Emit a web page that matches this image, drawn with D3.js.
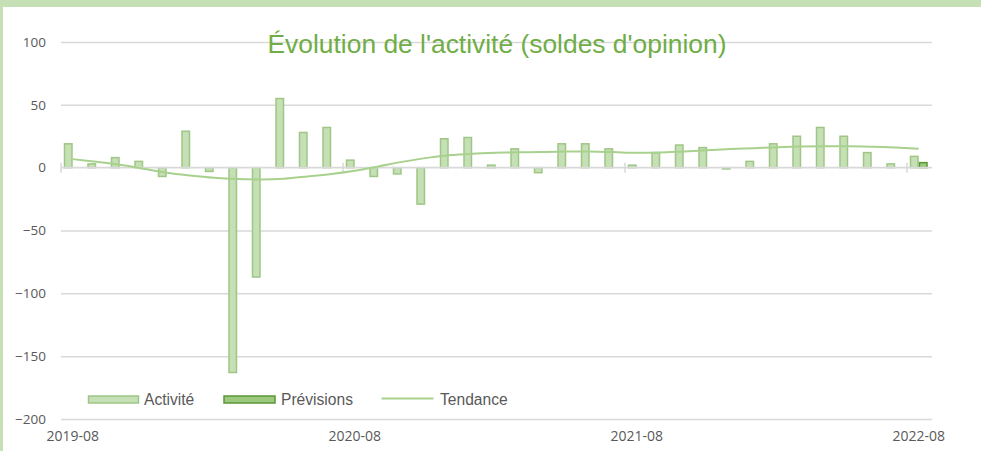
<!DOCTYPE html>
<html>
<head>
<meta charset="utf-8">
<script src="https://cdn.jsdelivr.net/npm/d3@7"></script>
<style>
  html, body { margin: 0; padding: 0; background: #fff; }
  svg { display: block; }
</style>
</head>
<body>
<svg id="chart" width="981" height="451"></svg>
<script>
const months = ['2019-08','2019-09','2019-10','2019-11','2019-12','2020-01','2020-02','2020-03','2020-04','2020-05','2020-06','2020-07',
  '2020-08','2020-09','2020-10','2020-11','2020-12','2021-01','2021-02','2021-03','2021-04','2021-05','2021-06','2021-07',
  '2021-08','2021-09','2021-10','2021-11','2021-12','2022-01','2022-02','2022-03','2022-04','2022-05','2022-06','2022-07','2022-08'];
const activite = [19,3,8,5,-7,29,-3,-163,-87,55,28,32,6,-7,-5,-29,23,24,2,15,-4,19,19,15,2,12,18,16,-1,5,19,25,32,25,12,3,9];
const previsions = [null,null,null,null,null,null,null,null,null,null,null,null,null,null,null,null,null,null,null,null,null,null,null,null,null,null,null,null,null,null,null,null,null,null,null,null,4];
const tendance = [6.8,4.7,2.3,-0.8,-4,-6.2,-8,-9.1,-9.5,-8.8,-7,-5,-2.4,1,4.6,7.6,9.8,11.1,11.8,12.2,12.5,12.8,12.9,12.4,11.8,12,12.9,13.8,14.8,15.5,16.3,16.9,17.1,17,16.7,16,15];
const yTicks = [-200,-150,-100,-50,0,50,100];
const xLabels = ['2019-08','2020-08','2021-08','2022-08'];
const seriesNames = ['Activité','Prévisions'];
const chartTitle = "Évolution de l'activité (soldes d'opinion)";

(function () {
const svg = d3.select('#chart');
const W = 981, H = 451;
const pLeft = 61, pRight = 930.5, pTop = 42, pBottom = 419;

// frame
svg.append('rect').attr('x',0).attr('y',0).attr('width',W).attr('height',H).attr('fill','#fff');
svg.append('rect').attr('x',0).attr('y',0).attr('width',W).attr('height',7).attr('fill','#c5e0b4');
svg.append('rect').attr('x',0).attr('y',0).attr('width',3).attr('height',H).attr('fill','#c5e0b4');

const x = d3.scaleBand().domain(months).range([pLeft, pRight]).paddingInner(0.234).paddingOuter(0.117);
const xs = d3.scaleBand().domain(seriesNames).range([0, x.bandwidth()]);
const y = d3.scaleLinear().domain([-200, 100]).range([pBottom, pTop]);

// gridlines
const grid = svg.append('g').attr('transform', `translate(${pLeft},0)`)
  .call(d3.axisLeft(y).tickValues(yTicks.filter(v => v !== 0)).tickSize(-(pRight - pLeft + 1.5)).tickFormat(''));
grid.select('.domain').remove();
grid.selectAll('line').attr('stroke','#d9d9d9').attr('stroke-width',1.5);

// y labels
const ya = svg.append('g').attr('transform', `translate(46,0)`)
  .call(d3.axisLeft(y).tickValues(yTicks).tickSize(0).tickPadding(0));
ya.select('.domain').remove();
ya.selectAll('text').attr('fill','#595959').style('font-family','"Open Sans", sans-serif').style('font-size','13.5px');

// title
svg.append('text').attr('x', 497).attr('y', 53).attr('text-anchor','middle')
  .attr('fill','#70ad47').style('font-family','"Liberation Sans", Arial, sans-serif').style('font-size','26.4px')
  .text(chartTitle);

// bars
const barG = svg.append('g');
const series = [
  {name:'Activité', values: activite, fill:'#c5e0b4', stroke:'#9fc686'},
  {name:'Prévisions', values: previsions, fill:'#9cc97e', stroke:'#5b9638'}
];
series.forEach(s => {
  barG.selectAll(null).data(months.map((m,i)=>({m, v:s.values[i]})).filter(d => d.v !== null))
    .enter().append('rect')
    .attr('x', d => x(d.m) + xs(s.name) + 0.75)
    .attr('width', xs.bandwidth() - 1.5)
    .attr('y', d => Math.min(y(d.v), y(0)))
    .attr('height', d => Math.abs(y(d.v) - y(0)))
    .attr('fill', s.fill).attr('stroke', s.stroke).attr('stroke-width', 1.5);
});

// zero axis line with ticks
const step = x.step();
const bStart = m => x(m) - step * 0.117;
svg.append('line').attr('x1', pLeft).attr('x2', pRight + 1.5).attr('y1', y(0)).attr('y2', y(0))
  .attr('stroke','#d9d9d9').attr('stroke-width',1.8);
svg.selectAll(null).data(xLabels).enter().append('line')
  .attr('x1', d => bStart(d)).attr('x2', d => bStart(d))
  .attr('y1', y(0) - 5).attr('y2', y(0) + 5)
  .attr('stroke','#d9d9d9').attr('stroke-width',1.5);

// trend line
const line = d3.line().x((d,i) => x(months[i]) + x.bandwidth()/2).y(d => y(d)).curve(d3.curveCatmullRom);
svg.append('path').datum(tendance).attr('d', line)
  .attr('fill','none').attr('stroke','#a9d18e').attr('stroke-width',2);

// x labels
const xa = svg.append('g').attr('transform', `translate(0,431)`)
  .call(d3.axisBottom(x).tickValues(xLabels).tickSize(0).tickPadding(0));
xa.select('.domain').remove();
xa.selectAll('text').attr('fill','#595959').style('font-family','"Open Sans", sans-serif').style('font-size','14px');

// legend
const lg = svg.append('g').style('font-family','"Liberation Sans", Arial, sans-serif').style('font-size','15.6px');
lg.append('rect').attr('x',88.5).attr('y',396).attr('width',50).attr('height',7)
  .attr('fill','#c5e0b4').attr('stroke','#9fc686').attr('stroke-width',1.5);
lg.append('text').attr('x',144).attr('y',404.5).attr('fill','#595959').text('Activité');
lg.append('rect').attr('x',224).attr('y',396).attr('width',51).attr('height',7)
  .attr('fill','#9cc97e').attr('stroke','#5b9638').attr('stroke-width',1.5);
lg.append('text').attr('x',281).attr('y',404.5).attr('fill','#595959').text('Prévisions');
lg.append('line').attr('x1',381.5).attr('x2',433.5).attr('y1',398.5).attr('y2',398.5)
  .attr('stroke','#a9d18e').attr('stroke-width',2);
lg.append('text').attr('x',440).attr('y',404.5).attr('fill','#595959').text('Tendance');
})();
</script>
</body>
</html>
